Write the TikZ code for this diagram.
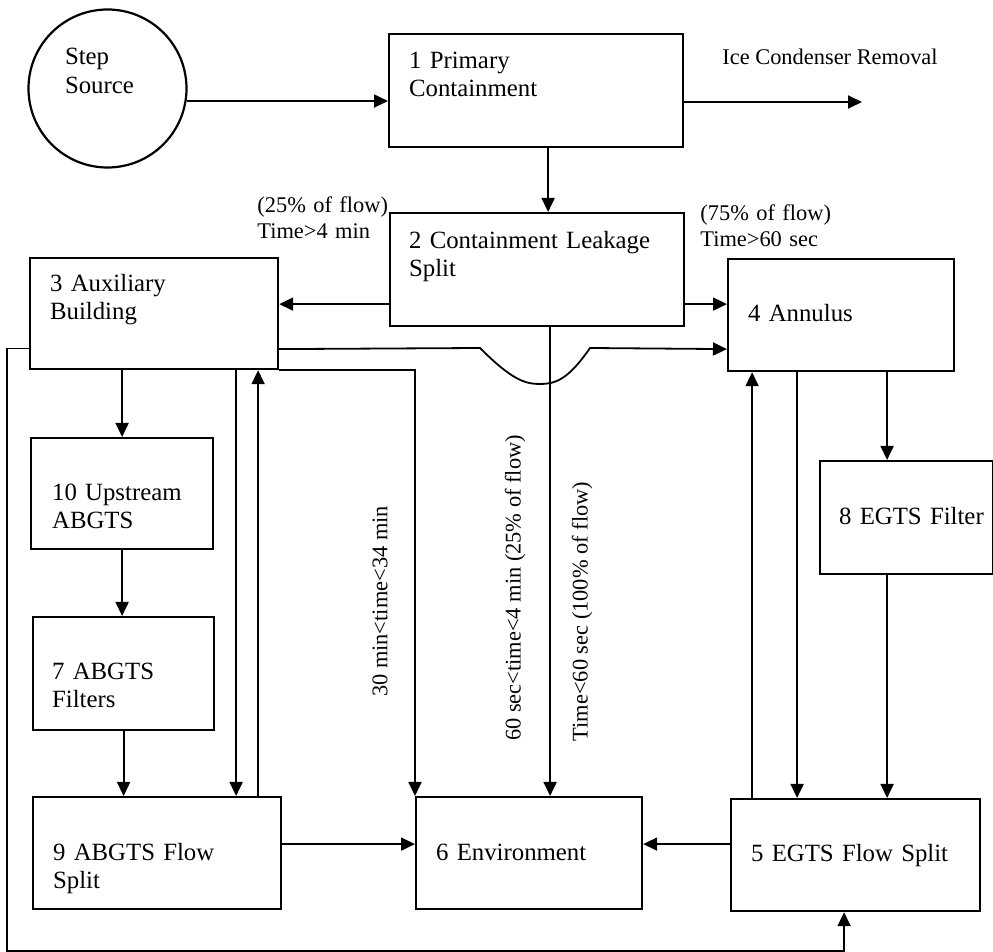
\documentclass[tikz,border=0pt]{standalone}
\usepackage{fontspec}
\setmainfont{Liberation Serif}
\usetikzlibrary{arrows.meta,calc}

\begin{document}
\begin{tikzpicture}[x=0.5pt, y=-0.5pt,
  blk/.style={draw, line width=1.1pt, anchor=north west, align=left, inner ysep=0pt, font=\fontsize{12.4}{14.3}\selectfont},
  lbl/.style={inner sep=0pt, font=\fontsize{11.2}{12.6}\selectfont},
  arr/.style={line width=0.9pt, -{Triangle[length=7pt, width=6.5pt]}}]
\useasboundingbox (0,0) rectangle (993,952);

% 源
\node[draw, circle, line width=1.1pt, minimum size=79pt, inner sep=0pt, align=left, text width=42.5pt, text height=10pt, text depth=33.5pt, font=\fontsize{12.4}{14.3}\selectfont] (src) at (107.5,88.5) {Step\\Source};

% 方框
\node[blk, text width=127pt, inner xsep=10pt, text height=17pt, text depth=39.5pt] (prim) at (388,33) {1 Primary\\Containment};
\node[blk, text width=128pt, inner xsep=9.5pt, text height=17.5pt, text depth=39pt] (leak) at (389,212) {2 Containment Leakage\\Split};
\node[blk, text width=104pt, inner xsep=10pt, text height=16.5pt, text depth=39pt] (aux) at (29,257) {3 Auxiliary\\Building};
\node[blk, text width=93pt, inner xsep=10pt, text height=31pt, text depth=25pt] (ann) at (727,258) {4 Annulus};
\node[blk, text width=70pt, inner xsep=10.5pt, text height=31pt, text depth=24.5pt] (up) at (30,437) {10 Upstream\\ABGTS};
\node[blk, text width=71.5pt, inner xsep=9.5pt, text height=31pt, text depth=25.5pt] (filt) at (32,616) {7 ABGTS\\Filters};
\node[blk, text width=104pt, inner xsep=10pt, text height=31.5pt, text depth=24.5pt] (asplit) at (32,796) {9 ABGTS Flow\\Split};
\node[blk, text width=93pt, inner xsep=10pt, text height=31.5pt, text depth=24.5pt] (env) at (415,796) {6 Environment};
\node[blk, text width=104.5pt, inner xsep=10pt, text height=31pt, text depth=25pt] (esplit) at (730,798) {5 EGTS Flow Split};
\node[blk, text width=67.5pt, inner xsep=9.5pt, text height=31.5pt, text depth=25pt] (efilt) at (819,460) {\mbox{8 EGTS Filter}};

% 标注
\node[lbl, anchor=base west] (icelbl) at (722,65) {Ice Condenser Removal};
\node[lbl, anchor=base west, align=left, text width=70pt] (lbl25) at (257,213) {(25\% of flow)\\Time>4 min};
\node[lbl, anchor=base west, align=left, text width=70pt] (lbl75) at (700,221) {(75\% of flow)\\Time>60 sec};
\node[lbl, rotate=90] (lbl30) at (380,601.5) {30 min<time<34 min};
\node[lbl, rotate=90] (lbl60) at (515,588) {60 sec<time<4 min (25\% of flow)};
\node[lbl, rotate=90] (lbl100) at (582,611.5) {Time<60 sec (100\% of flow)};

% 辅助点
\coordinate (ice) at (862,102);
\coordinate (p1) at ($(prim.south)+(12,0)$);
\coordinate (p2) at ($(leak.west)+(0,34.5)$);
\coordinate (p3) at ($(leak.east)+(0,34.5)$);
\coordinate (p4) at ($(aux.east)+(0,35.5)$);
\coordinate (p5) at ($(aux.west)+(0,35)$);
\coordinate (p6) at ($(aux.south)+(82,0)$);
\coordinate (p7) at ($(aux.south)+(104,0)$);
\coordinate (p8) at ($(asplit.east)+(0,-9)$);
\coordinate (p9) at ($(esplit.west)+(0,-11)$);
\coordinate (p10) at ($(leak.south)+(13,0)$);
\coordinate (p11) at ($(ann.south)+(-89,0)$);
\coordinate (p12) at ($(ann.south)+(-44,0)$);
\coordinate (p13) at ($(ann.south)+(46,0)$);
\coordinate (p14) at ($(esplit.south)+(-11.5,0)$);

% 连线
\draw[arr] (src.-9) -- (src.-9 -| prim.west);
\draw[arr] (prim.east |- ice) -- (ice);
\draw[arr] (p1) -- (p1 |- leak.north);
\draw[arr] (p2) -- (p2 -| aux.east);
\draw[arr] (p3) -- (p3 -| ann.west);
\draw[arr] (p4) -- (480,348) .. controls (512,380) and (525,384) .. (540,384) .. controls (555,384) and (568,380) .. (590,348) -- (p4 -| ann.west);
\draw[arr] (p5) -| (7,951) -| (p14);
\draw[arr] (aux.south east) -| (env.north west);
\draw[arr] (aux.south -| up.north) -- (up.north);
\draw[arr] (up.south) -- (up.south |- filt.north);
\draw[arr] (filt.south) -- (filt.south |- asplit.north);
\draw[arr] (p6) -- (p6 |- asplit.north);
\draw[arr] (p7 |- asplit.north) -- (p7);
\draw[arr] (p8) -- (p8 -| env.west);
\draw[arr] (p9) -- (p9 -| env.east);
\draw[arr] (p10) -- (p10 |- env.north);
\draw[arr] (p11 |- esplit.north) -- (p11);
\draw[arr] (p12) -- (p12 |- esplit.north);
\draw[arr] (p13) -- (p13 |- efilt.north);
\draw[arr] (p13 |- efilt.south) -- (p13 |- esplit.north);
\end{tikzpicture}
\end{document}
